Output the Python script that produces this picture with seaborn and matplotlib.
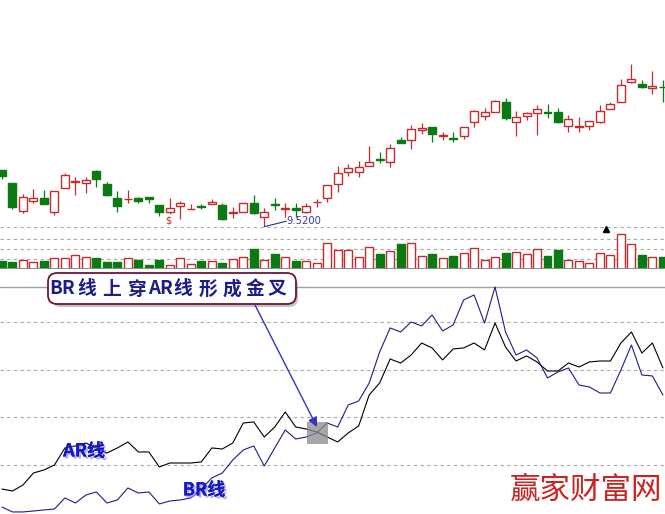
import numpy as np
import pandas as pd
import matplotlib
matplotlib.use("Agg")
import matplotlib.pyplot as plt
import seaborn as sns
from matplotlib.patches import Rectangle, FancyBboxPatch
import matplotlib.patheffects as pe

# ---------------- data ----------------
opens = [10.65, 10.39, 9.84, 10.03, 10.09, 9.82, 10.29, 10.42, 10.39, 10.63,
         10.37, 10.09, 10.07, 10.09, 10.11, 9.95, 9.82, 9.94, 9.87, 9.93,
         9.98, 9.95, 9.80, 9.82, 9.99, 9.72, 9.97, 9.87, 9.89, 9.81,
         10.01, 10.09, 10.37, 10.61, 10.62, 10.74, 10.88, 10.81, 11.25, 11.25,
         11.45, 11.51, 11.33, 11.30, 11.33, 11.61, 11.74, 11.82, 12.01, 11.62,
         11.74, 11.79, 11.81, 11.81, 11.54, 11.52, 11.54, 11.61, 11.87, 12.02,
         12.42, 12.37, 12.30, 12.32]
closes = [10.54, 9.92, 10.11, 10.09, 9.98, 10.23, 10.55, 10.43, 10.45, 10.47,
          10.15, 9.93, 10.08, 10.03, 10.07, 9.82, 9.90, 10.00, 9.88, 9.91,
          10.02, 9.68, 9.82, 10.00, 9.79, 9.82, 9.95, 9.89, 9.85, 9.94,
          10.02, 10.35, 10.59, 10.70, 10.71, 10.81, 10.86, 11.10, 11.20, 11.47,
          11.50, 11.37, 11.35, 11.27, 11.52, 11.83, 11.82, 12.03, 11.69, 11.71,
          11.79, 11.87, 11.79, 11.62, 11.67, 11.53, 11.63, 11.83, 11.97, 12.35,
          12.47, 12.31, 12.33, 12.31]
highs = [10.65, 10.39, 10.17, 10.27, 10.25, 10.23, 10.59, 10.52, 10.51, 10.65,
         10.41, 10.23, 10.25, 10.12, 10.11, 9.95, 10.09, 10.03, 9.98, 9.97,
         10.08, 9.99, 9.91, 10.00, 10.15, 9.89, 10.09, 10.00, 9.99, 10.00,
         10.07, 10.35, 10.73, 10.77, 10.83, 11.14, 11.02, 11.17, 11.32, 11.55,
         11.59, 11.51, 11.42, 11.41, 11.52, 11.85, 11.89, 12.05, 12.09, 11.83,
         11.82, 11.95, 11.97, 11.89, 11.75, 11.72, 11.64, 11.95, 12.02, 12.47,
         12.77, 12.45, 12.64, 12.45]
lows = [10.47, 9.88, 9.79, 9.99, 9.97, 9.75, 10.29, 10.16, 10.19, 10.31,
        10.13, 9.82, 9.99, 9.99, 9.99, 9.73, 9.77, 9.67, 9.87, 9.87,
        9.98, 9.65, 9.69, 9.82, 9.77, 9.52, 9.85, 9.72, 9.72, 9.79,
        9.92, 10.02, 10.22, 10.53, 10.52, 10.74, 10.79, 10.72, 11.19, 11.07,
        11.37, 11.21, 11.25, 11.21, 11.27, 11.51, 11.65, 11.82, 11.65, 11.34,
        11.65, 11.35, 11.70, 11.60, 11.42, 11.42, 11.45, 11.59, 11.87, 12.02,
        12.39, 12.30, 12.17, 12.02]
volumes = [8300, 7300, 9300, 6700, 7700, 11000, 11000, 14000, 12300, 11300,
           6700, 7300, 11000, 8700, 4300, 9300, 3700, 10700, 5000, 7700,
           7700, 6300, 10000, 12300, 20300, 9000, 15300, 12000, 7700, 8300,
           6000, 26000, 19300, 19300, 12300, 22000, 15300, 17700, 25300, 26000,
           13000, 15300, 11000, 13300, 16000, 21000, 8700, 12000, 16300, 17000,
           15000, 20000, 13300, 18700, 9000, 8300, 6000, 16000, 14000, 35000,
           25000, 14300, 12000, 12300]
ar = [24.8, 22.7, 29.0, 41.6, 44.8, 50.0, 67.9, 70.0, 73.1, 67.9,
      62.6, 67.9, 74.2, 63.7, 63.7, 47.9, 52.1, 52.1, 52.1, 53.2,
      67.9, 66.8, 73.1, 94.1, 95.2, 79.4, 89.9, 105.7, 89.9, 87.8,
      84.7, 79.4, 74.2, 83.6, 91.0, 123.5, 136.1, 161.3, 157.1, 165.5,
      178.1, 172.9, 160.3, 171.8, 172.9, 178.1, 170.8, 199.1, 173.9, 159.2,
      164.5, 158.2, 148.7, 148.7, 157.1, 152.9, 158.2, 159.2, 159.2, 178.1,
      189.7, 167.6, 178.1, 151.9]
br = [5.9, 0.7, 0.7, 1.7, 2.8, 3.8, 15.4, 10.1, 18.5, 21.7,
      10.1, 13.3, 25.9, 20.6, 21.7, 9.1, 12.2, 13.3, 15.4, 24.8,
      36.4, 41.6, 55.3, 65.8, 70.0, 49.0, 67.9, 86.8, 77.3, 79.4,
      83.6, 94.1, 89.9, 113.0, 117.2, 136.1, 168.7, 193.9, 189.7, 200.2,
      196.0, 207.5, 190.7, 197.0, 223.3, 228.5, 199.1, 236.9, 189.7, 165.5,
      170.8, 162.4, 141.4, 147.7, 151.9, 134.0, 131.9, 125.6, 125.6, 149.8,
      176.0, 144.5, 143.5, 123.5]
low_label = "9.5200"
callout_parts = ["BR", "线", "上", "穿", "AR", "线", "形", "成", "金", "叉"]
ar_label = "AR线"
br_label = "BR线"
watermark = "赢家财富网"

# ---------------- style ----------------
sns.set_theme(style="white")
plt.rcParams['font.family'] = ['Noto Sans CJK SC', 'DejaVu Sans']

RED = '#c42a2e'
GREEN = '#0a7a12'
GRID = '#a8a8a8'

W, H = 665, 514
fig = plt.figure(figsize=(W / 100, H / 100), dpi=100)
fig.patch.set_facecolor('white')

def frac_y(y):
    return 1 - y / H

ax_p = fig.add_axes([0, frac_y(227), 1, 227 / H])
ax_v = fig.add_axes([0, frac_y(269), 1, 42 / H])
ax_i = fig.add_axes([0, 0, 1, 228 / H])

idx = np.arange(len(opens))
XL = (-0.19, 63.2)
for ax in (ax_p, ax_v, ax_i):
    ax.set_xlim(*XL)
    ax.set_xticks([])
    ax.set_yticks([])
    for s in ax.spines.values():
        s.set_visible(False)
    ax.patch.set_alpha(0)

# ---------------- price candles ----------------
ax_p.set_ylim(9.514, 14.054)
bw = 0.76
for i in idx:
    o, h, l, c = opens[i], highs[i], lows[i], closes[i]
    up = c >= o
    col = RED if up else GREEN
    bot, top = min(o, c), max(o, c)
    if top - bot < 0.012:
        mid = (top + bot) / 2
        bot, top = mid - 0.006, mid + 0.006
    ax_p.plot([i, i], [l, bot], color=col, lw=0.9, solid_capstyle='butt')
    ax_p.plot([i, i], [top, h], color=col, lw=0.9, solid_capstyle='butt')
    ax_p.add_patch(Rectangle((i - bw / 2, bot), bw, top - bot,
                             facecolor='white' if up else col,
                             edgecolor=col, lw=1.0, zorder=3))

# low marker
lo_i = int(np.argmin(lows))
ax_p.plot([lo_i, lo_i + 2.1], [lows[lo_i], lows[lo_i] + 0.11], color='#2a2a90', lw=0.8)
ax_p.text(lo_i + 2.1, lows[lo_i] + 0.11, low_label, color='#3838a8', fontsize=7.2,
          family='DejaVu Sans', ha='left', va='center')
ax_p.text(15.9, 9.64, "$", color=RED, fontsize=7, family='DejaVu Sans',
          ha='center', va='center')

# ---------------- volume ----------------
ax_v.set_ylim(0, 42000)
for g in (10000, 20000, 30000, 41800):
    ax_v.axhline(g, color=GRID, lw=0.8, ls=(0, (3, 3)), zorder=0)
vcols = [RED if closes[i] >= opens[i] else GREEN for i in idx]
ax_v.bar(idx, volumes, width=bw,
         color=['white' if c == RED else c for c in vcols],
         edgecolor=vcols, lw=1.0, zorder=2)
ax_v.axhline(0, color='#8c8c8c', lw=2.2, zorder=3)
ax_v.plot([57.6], [40000], marker='^', color='black', ms=4.5, zorder=4, clip_on=False)

# ---------------- AR / BR ----------------
ax_i.set_ylim(-1.45, 237.95)
for g in (50, 100, 150, 200):
    ax_i.axhline(g, color=GRID, lw=0.8, ls=(0, (3, 3)), zorder=0)
ax_i.axhline(237.3, color='#a0a0a0', lw=1.0, zorder=0)
df = pd.DataFrame({'i': idx, 'AR': ar, 'BR': br})
sns.lineplot(data=df, x='i', y='AR', ax=ax_i, color='black', lw=0.8)
sns.lineplot(data=df, x='i', y='BR', ax=ax_i, color='#1e1e88', lw=0.8)
ax_i.set_xlabel('')
ax_i.set_ylabel('')
ax_i.set_xlim(*XL)

# ---------------- annotations overlay (pixel coords) ----------------
ov = fig.add_axes([0, 0, 1, 1])
ov.set_xlim(0, W)
ov.set_ylim(H, 0)
ov.axis('off')
ov.patch.set_alpha(0)

ov.add_patch(FancyBboxPatch((52, 277), 246, 30, boxstyle="round,pad=0,rounding_size=9",
                            fc='#9a8a9a', ec='none', alpha=0.55))
ov.add_patch(FancyBboxPatch((48, 273), 248, 31, boxstyle="round,pad=0,rounding_size=9",
                            fc='white', ec='#6a1838', lw=1.3))
part_x = [62, 87, 112, 137, 161, 183, 208, 232, 255, 277]
for px, s in zip(part_x, callout_parts):
    ov.text(px, 289, s, color='#1c1c8c', fontsize=13.5, fontweight='bold',
            ha='center', va='center')

ov.annotate('', xy=(317, 427), xytext=(255, 305),
            arrowprops=dict(arrowstyle='-|>', color='#3434c8', lw=1.0,
                            mutation_scale=14, shrinkA=0, shrinkB=0))
ov.add_patch(Rectangle((307, 422), 21, 22, fc='#8a8a8a', ec='none', alpha=0.75))

shadow = [pe.withSimplePatchShadow(offset=(1.5, -1.5), shadow_rgbFace='#8890e8', alpha=0.7),
          pe.Normal()]
ov.text(84, 451, ar_label, color='#1818c0', fontsize=13, fontweight='bold',
        ha='center', va='center', path_effects=shadow)
ov.text(204, 490, br_label, color='#1818c0', fontsize=13, fontweight='bold',
        ha='center', va='center', path_effects=shadow)

ov.text(586, 490, watermark, color='#cc2222', fontsize=22, fontweight='light',
        ha='center', va='center')

fig.savefig('out.png', dpi=100)
